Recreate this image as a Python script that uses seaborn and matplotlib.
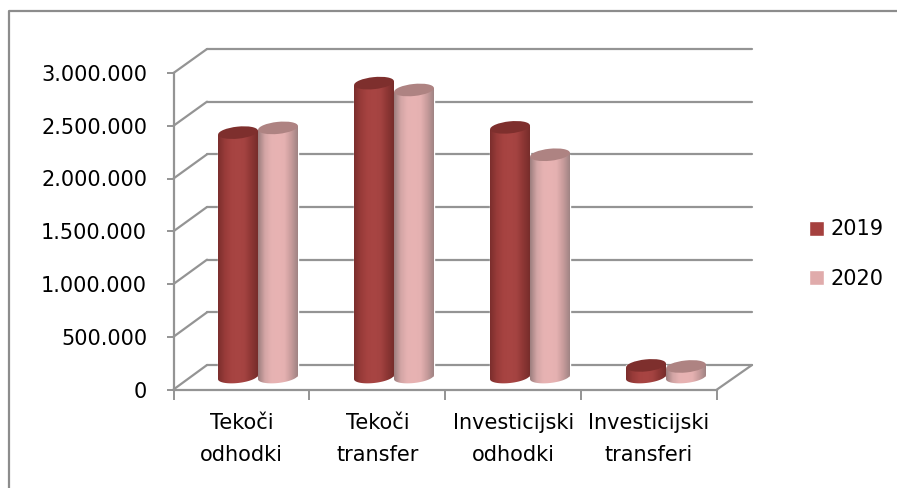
import numpy as np
import pandas as pd
import matplotlib
matplotlib.use("Agg")
import matplotlib.pyplot as plt
import seaborn as sns
from matplotlib.colors import LinearSegmentedColormap
from matplotlib.lines import Line2D
from matplotlib.patches import ConnectionPatch, Ellipse
from matplotlib.path import Path
from matplotlib.transforms import Affine2D, IdentityTransform

categories = ["Tekoči\nodhodki", "Tekoči\ntransfer", "Investicijski\nodhodki", "Investicijski\ntransferi"]
values_2019 = [2320000, 2790000, 2370000, 110000]
values_2020 = [2365000, 2725000, 2110000, 100000]
years = ["2019", "2020"]
y_ticks = [0, 500000, 1000000, 1500000, 2000000, 2500000, 3000000]
y_labels = ["0", "500.000", "1.000.000", "1.500.000", "2.000.000", "2.500.000", "3.000.000"]

W, H = 897, 488
GREY = "#949494"
TILT = 6
E_H = 12

sns.set_theme(style="white")
plt.rcParams["font.family"] = ["DejaVu Sans"]

fig = plt.figure(figsize=(W / 100, H / 100), dpi=100, facecolor="white")


def axes_px(x0, x1, ytop, ybot, z):
    a = fig.add_axes([x0 / W, 1 - ybot / H, (x1 - x0) / W, (ybot - ytop) / H], zorder=z)
    a.patch.set_alpha(0)
    a.set_ylim(0, 3000000)
    a.set_xlim(-0.5, 3.5)
    return a


# Chart frame: only the top and left edges fall inside the picture
fig.add_artist(Line2D([9 / W, 9 / W, 1], [0, 1 - 11 / H, 1 - 11 / H], transform=fig.transFigure,
                      color="#8C8C8C", lw=1.6))

# Back wall
wall = axes_px(207, 752, 49, 365, 1)
wall.set_xticks([])
wall.set_yticks(y_ticks)
wall.tick_params(left=False, labelleft=False)
wall.grid(True, axis="y", color=GREY, lw=1.6, clip_on=False)
for g in wall.get_ygridlines():
    g.set_clip_on(False)
sns.despine(ax=wall, left=True, bottom=True)

# Front axis
ax = axes_px(173.5, 717, 73, 389.5, 2)
sns.despine(ax=ax)
for s in ("left", "bottom"):
    ax.spines[s].set_color(GREY)
    ax.spines[s].set_linewidth(1.6)
ax.set_yticks(y_ticks, y_labels)
ax.set_xticks(np.arange(-0.5, 4, 1), [""] * 5)
ax.set_xticks(np.arange(4), categories, minor=True)
ax.tick_params(axis="y", length=5, width=1.4, color=GREY, labelsize=15, pad=14, labelcolor="black", left=True)
ax.tick_params(axis="x", which="major", length=7, width=1.4, color=GREY, bottom=True)
ax.tick_params(axis="x", which="minor", length=0, labelsize=15, pad=17, labelcolor="black")
for t in ax.get_xminorticklabels():
    t.set_linespacing(1.72)

for v in y_ticks:
    wall.add_artist(ConnectionPatch((-0.5, v), (-0.5, v), "data", "data", axesA=ax, axesB=wall,
                                    color=GREY, lw=1.6, clip_on=False))
wall.add_artist(ConnectionPatch((3.5, 0), (3.5, 0), "data", "data", axesA=ax, axesB=wall,
                                color=GREY, lw=1.6, clip_on=False))

# Cylinders
bars = axes_px(190, 734, 61, 377, 3)
df = pd.DataFrame({
    "kategorija": categories * 2,
    "vrednost": values_2019 + values_2020,
    "leto": [years[0]] * 4 + [years[1]] * 4,
})
sns.barplot(data=df, x="kategorija", y="vrednost", hue="leto", palette=["#A5403E", "#E0ABAB"],
            width=80 / 136, gap=0, dodge=True, ax=bars, legend=True, saturation=1, errorbar=None)
bars.set_xlim(-0.5, 3.5)
bars.set_ylim(0, 3000000)
bars.set_xlabel("")
bars.set_ylabel("")
bars.set_xticks([])
bars.set_yticks([])
sns.despine(ax=bars, left=True, bottom=True)

handles, labels = bars.get_legend_handles_labels()
bars.legend(handles, labels, loc="upper left", bbox_to_anchor=(799 / W, 1 - 209 / H),
            bbox_transform=fig.transFigure, frameon=False, fontsize=15, labelcolor="black",
            handlelength=0.72, handleheight=0.72, handletextpad=0.3, labelspacing=1.42, borderpad=0)

cmaps = [
    LinearSegmentedColormap.from_list("a", ["#7C2E2D", "#983B39", "#A64341", "#A84543", "#A44341", "#8E3735", "#772D2B"]),
    LinearSegmentedColormap.from_list("b", ["#9E7F7F", "#D3A5A5", "#E6B2B2", "#E8B3B3", "#E5B1B1", "#C89C9C", "#A08484"]),
]
top_colors = ["#7E2F2D", "#AE8382"]
ramp = np.linspace(0, 1, 64).reshape(1, -1)
n = len(categories)
zz = 4
for idx in range(2 * n):
    p = bars.patches[idx]
    x0, w, h = p.get_x(), p.get_width(), p.get_height()
    cmap = cmaps[0] if idx < n else cmaps[1]
    (l, b), (r, t) = bars.transData.transform([(x0, 0), (x0 + w, h)])
    cx, a = (l + r) / 2, (r - l) / 2
    tan = np.tan(np.radians(TILT))
    th = np.linspace(np.pi, 2 * np.pi, 40)
    ex = cx + a * np.cos(th)
    ey = b + (E_H / 2) * np.sin(th) + a * np.cos(th) * tan
    tl = t - a * tan
    tr = t + a * tan
    verts = [(l, tl)] + list(zip(ex, ey)) + [(r, tr)] + [(l, tl)]
    clip = Path(verts)
    ylo = bars.transData.inverted().transform((0, b - 2 * E_H))[1]
    im = bars.imshow(ramp, cmap=cmap, aspect="auto", extent=(x0, x0 + w, ylo, h + 60000), zorder=zz)
    im.set_clip_box(fig.bbox)
    im.set_clip_path(clip, transform=IdentityTransform())
    cap = Ellipse((0, 0), 2 * a, E_H, fc=top_colors[0] if idx < n else top_colors[1], ec="none",
                  transform=Affine2D().rotate_deg(TILT).translate(cx, t), zorder=zz + 1, clip_on=False)
    bars.add_patch(cap)
    zz += 2
bars.set_xlim(-0.5, 3.5)
bars.set_ylim(0, 3000000)

fig.savefig("out.png", dpi=100, facecolor="white")
